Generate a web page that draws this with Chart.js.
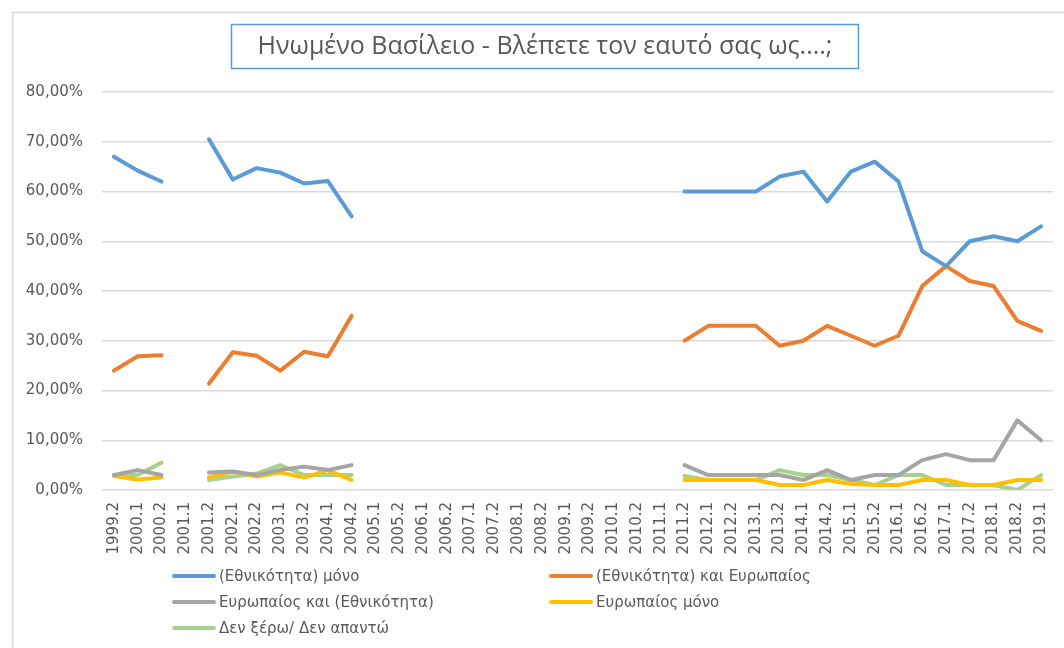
<!DOCTYPE html>
<html>
<head>
<meta charset="utf-8">
<script src="https://cdn.jsdelivr.net/npm/chart.js@4/dist/chart.umd.min.js"></script>
<style>
html,body{margin:0;padding:0;background:#fff;}
#wrap{width:1064px;height:648px;position:relative;}
</style>
</head>
<body>
<div id="wrap"><canvas id="c" width="1064" height="648"></canvas></div>
<script>
const titleText = "Ηνωμένο Βασίλειο - Βλέπετε τον εαυτό σας ως....;";
const categories = ["1999.2","2000.1","2000.2","2001.1","2001.2","2002.1","2002.2","2003.1","2003.2","2004.1","2004.2","2005.1","2005.2","2006.1","2006.2","2007.1","2007.2","2008.1","2008.2","2009.1","2009.2","2010.1","2010.2","2011.1","2011.2","2012.1","2012.2","2013.1","2013.2","2014.1","2014.2","2015.1","2015.2","2016.1","2016.2","2017.1","2017.2","2018.1","2018.2","2019.1"];
const seriesNames = ["(Εθνικότητα) μόνο","(Εθνικότητα) και Ευρωπαίος","Ευρωπαίος και (Εθνικότητα)","Ευρωπαίος μόνο","Δεν ξέρω/ Δεν απαντώ"];
const nationalOnly = [67,64.2,62,null,70.5,62.4,64.7,63.8,61.6,62.1,55,null,null,null,null,null,null,null,null,null,null,null,null,null,60,60,60,60,63,64,58,64,66,62,48,45,50,51,50,53];
const nationalAndEuropean = [24,26.9,27.1,null,21.4,27.7,27,24,27.8,26.9,35,null,null,null,null,null,null,null,null,null,null,null,null,null,30,33,33,33,29,30,33,31,29,31,41,45,42,41,34,32];
const europeanAndNational = [3,4,3,null,3.5,3.7,3,4,4.7,4,5,null,null,null,null,null,null,null,null,null,null,null,null,null,5,3,3,3,3,2,4,2,3,3,6,7.2,6,6,14,10];
const europeanOnly = [2.8,2.1,2.5,null,2.5,3.7,2.7,3.5,2.5,4,2,null,null,null,null,null,null,null,null,null,null,null,null,null,2,2,2,2,1,1,2,1.2,1,1,2,2,1,1,2,2];
const dontKnow = [3,3,5.5,null,2,2.7,3.3,5,3,3,3,null,null,null,null,null,null,null,null,null,null,null,null,null,2.8,2,2,2,4,3,3,2,1,3,3,1,1,1,0,3];
const yTicks = [0,10,20,30,40,50,60,70,80];

const colors = ["#5B9BD5","#ED7D31","#A5A5A5","#FFC000","#A9D18E"];
const values = [nationalOnly,nationalAndEuropean,europeanAndNational,europeanOnly,dontKnow];
const TXT = "#595959";

const decor = {
  id:'decor',
  beforeDraw(chart){
    const ctx = chart.ctx;
    ctx.save();
    ctx.fillStyle = '#fff';
    ctx.fillRect(0,0,chart.width,chart.height);
    ctx.strokeStyle = '#D9D9D9';
    ctx.lineWidth = 1.5;
    ctx.strokeRect(12.5,12.5,1100,700);
    ctx.restore();
  },
  afterDraw(chart){
    const ctx = chart.ctx;
    ctx.save();
    ctx.strokeStyle = '#5B9BD5';
    ctx.lineWidth = 1.5;
    ctx.strokeRect(231.5,24.5,627,44);
    ctx.fillStyle = TXT;
    ctx.font = '400 25px "Open Sans", "Liberation Sans", sans-serif';
    ctx.textAlign = 'center';
    ctx.textBaseline = 'middle';
    ctx.fillText(titleText, 545, 47, 610);
    const pos = [[172,576],[549,576],[172,602],[549,602],[172,628]];
    ctx.font = '15px "DejaVu Sans", sans-serif';
    ctx.textAlign = 'left';
    chart.data.datasets.forEach((ds,i)=>{
      const [x,y] = pos[i];
      ctx.strokeStyle = ds.borderColor;
      ctx.lineWidth = 4;
      ctx.lineCap = 'round';
      ctx.beginPath(); ctx.moveTo(x+2,y); ctx.lineTo(x+42,y); ctx.stroke();
      ctx.fillStyle = TXT;
      ctx.fillText(ds.label, x+47, y+1);
    });
    ctx.restore();
  }
};

new Chart(document.getElementById('c'), {
  type:'line',
  data:{
    labels: categories,
    datasets: seriesNames.map((n,i)=>({
      label:n, data: values[i], borderColor: colors[i], backgroundColor: colors[i],
      borderWidth:4, pointRadius:0, pointHoverRadius:0, spanGaps:false,
      borderJoinStyle:'round', borderCapStyle:'round', tension:0
    }))
  },
  options:{
    responsive:false, animation:false, devicePixelRatio:1,
    layout:{padding:{left:12, right:11, top:92, bottom:0}},
    plugins:{legend:{display:false}, title:{display:false}, tooltip:{enabled:false}},
    scales:{
      x:{
        offset:true,
        grid:{display:false, drawTicks:false, offset:true}, border:{display:false},
        ticks:{color:TXT, font:{family:'"DejaVu Sans"', size:15}, minRotation:90, maxRotation:90, padding:12, autoSkip:false},
        afterFit(s){ s.height = 158; s.paddingLeft = 0; s.paddingRight = 0; }
      },
      y:{
        min:0, max:80,
        afterBuildTicks(s){ s.ticks = yTicks.map(v=>({value:v})); },
        grid:{color:'#D9D9D9', lineWidth:1.5, drawTicks:false}, border:{display:false},
        ticks:{color:TXT, font:{family:'"DejaVu Sans"', size:15}, padding:19,
          callback:v=>v.toFixed(2).replace('.',',')+'%'},
        afterFit(s){ s.width = 90; }
      }
    }
  },
  plugins:[decor]
});
</script>
</body>
</html>
